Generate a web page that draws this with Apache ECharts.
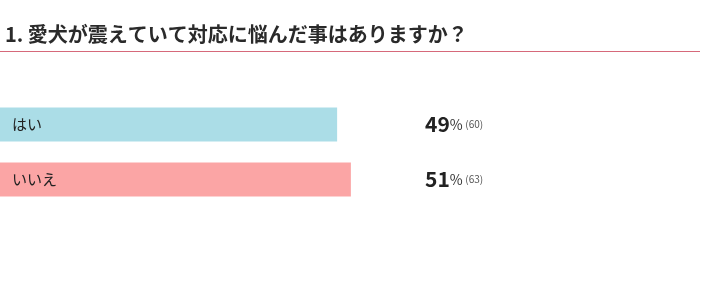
<!DOCTYPE html>
<html>
<head>
<meta charset="utf-8">
<script src="https://cdn.jsdelivr.net/npm/echarts@6/dist/echarts.min.js"></script>
<style>
  html, body { margin: 0; padding: 0; background: #fff; }
  #chart { width: 710px; height: 302px; }
</style>
</head>
<body>
<div id="chart"></div>
<script>
const title = '1. 愛犬が震えていて対応に悩んだ事はありますか？';
const categories = ['はい', 'いいえ'];
const percents = [49, 51];
const counts = [60, 63];
const barColors = ['#abdde7', '#fba5a5'];

const chart = echarts.init(document.getElementById('chart'));
const font = '"Noto Sans CJK JP", "Noto Sans", sans-serif';

let option = {
    animation: false,
    textStyle: { fontFamily: font },
    title: {
        text: title,
        left: 0,
        top: 19,
        textStyle: { fontSize: 20, fontWeight: 'bold', color: '#2a2a2a', fontFamily: font }
    },
    graphic: [{
        type: 'rect',
        shape: { x: 0, y: 51, width: 700, height: 1 },
        style: { fill: '#d6697a' }
    }],
    grid: { left: 0, top: 97, width: 688, height: 110, show: false },
    xAxis: {
        type: 'value',
        min: 0,
        max: 100,
        show: false
    },
    yAxis: {
        type: 'category',
        data: categories,
        inverse: true,
        show: false
    },
    series: [{
        type: 'bar',
        barWidth: 34,
        data: percents.map((v, i) => ({ value: v, itemStyle: { color: barColors[i] } })),
        label: {
            show: true,
            position: 'insideLeft',
            distance: 12,
            formatter: p => categories[p.dataIndex],
            color: '#222',
            fontSize: 15
        },
        z: 2
    }, {
        type: 'bar',
        barWidth: 34,
        barGap: '-100%',
        data: percents.map(() => 100),
        itemStyle: { color: 'rgba(0,0,0,0)' },
        silent: true,
        label: {
            show: true,
            position: [425, 17],
            verticalAlign: 'middle',
            formatter: p => '{a|' + percents[p.dataIndex] + '}{b|%} {c|(' + counts[p.dataIndex] + ')}',
            rich: {
                a: { fontSize: 21, fontWeight: 'bold', color: '#222', fontFamily: font },
                b: { fontSize: 14, color: '#333', fontFamily: font },
                c: { fontSize: 10, color: '#555', fontFamily: font }
            }
        },
        z: 1
    }]
};
chart.setOption(option);
</script>
</body>
</html>
